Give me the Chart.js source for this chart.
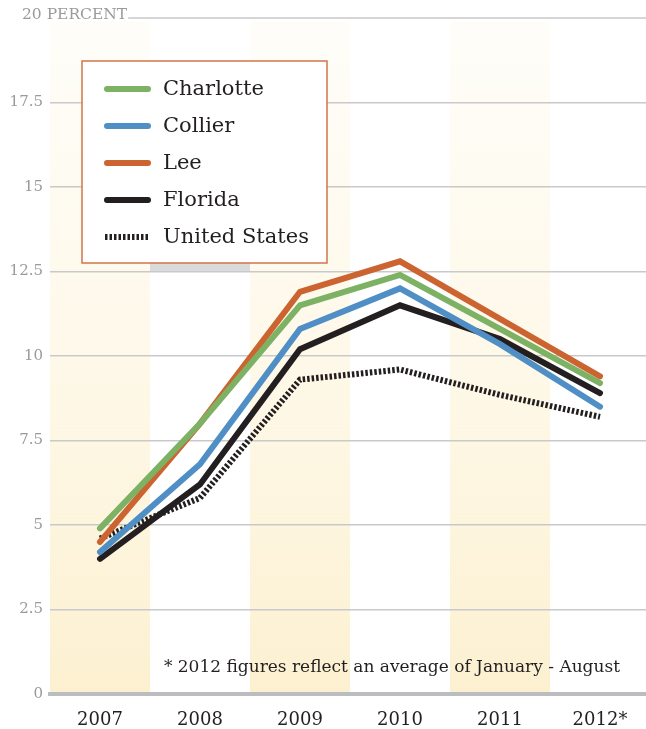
<!DOCTYPE html>
<html>
<head>
<meta charset="utf-8">
<script src="https://cdn.jsdelivr.net/npm/chart.js@4.4.1/dist/chart.umd.min.js"></script>
<style>
html, body { margin: 0; padding: 0; background: #fff; overflow: hidden; }
#wrap { width: 650px; height: 729px; position: relative; }
</style>
</head>
<body>
<div id="wrap"><canvas id="lineChart"></canvas></div>
<script>
var years = ['2007', '2008', '2009', '2010', '2011', '2012*'];
var charlotte = [4.9, 8.0, 11.5, 12.4, 10.8, 9.2];
var collier = [4.2, 6.8, 10.8, 12.0, 10.35, 8.5];
var lee = [4.5, 8.0, 11.9, 12.8, 11.1, 9.4];
var florida = [4.0, 6.2, 10.2, 11.5, 10.5, 8.9];
var unitedStates = [4.6, 5.8, 9.3, 9.6, 8.85, 8.2];
var topLabel = '20 PERCENT';
var footnote = '* 2012 figures reflect an average of January - August';

var serif = '"DejaVu Serif", Georgia, serif';

// shaded year columns, grey block and top label
var backdrop = {
    id: 'backdrop',
    beforeDraw: function (chart) {
        var ctx = chart.ctx, area = chart.chartArea;
        var x = chart.scales.x, y = chart.scales.y;
        var half = (x.getPixelForValue(1) - x.getPixelForValue(0)) / 2;
        ctx.save();
        var grad = ctx.createLinearGradient(0, area.top, 0, area.bottom);
        grad.addColorStop(0, 'rgba(253,244,218,0.15)');
        grad.addColorStop(0.5, 'rgba(253,244,218,0.6)');
        grad.addColorStop(1, 'rgba(252,240,208,1)');
        ctx.fillStyle = grad;
        [0, 2, 4].forEach(function (i) {
            var cx = x.getPixelForValue(i);
            ctx.fillRect(cx - half, area.top + 3, half * 2, area.bottom - area.top - 3);
        });
        ctx.fillStyle = '#d9dadc';
        var cx1 = x.getPixelForValue(1);
        var yTop = y.getPixelForValue(12.78), yBot = y.getPixelForValue(12.5);
        ctx.fillRect(cx1 - half, yTop, half * 2, yBot - yTop);
        ctx.restore();
    },
    afterDraw: function (chart) {
        var ctx = chart.ctx, area = chart.chartArea;
        ctx.save();
        ctx.font = '15.5px ' + serif;
        ctx.fillStyle = '#9a9a9a';
        ctx.textBaseline = 'alphabetic';
        ctx.fillText(topLabel, 22, area.top + 1);
        var w = ctx.measureText(topLabel).width;
        ctx.strokeStyle = '#c9c9cc';
        ctx.lineWidth = 1.5;
        ctx.beginPath();
        ctx.moveTo(22 + w + 1, area.top);
        ctx.lineTo(area.right, area.top);
        ctx.stroke();

        ctx.font = '17px ' + serif;
        ctx.fillStyle = '#231f20';
        ctx.textAlign = 'right';
        ctx.fillText(footnote, area.right - 30, area.bottom - 22);
        ctx.restore();
    }
};

// boxed legend in the upper left
var boxLegend = {
    id: 'boxLegend',
    afterDatasetsDraw: function (chart) {
        var ctx = chart.ctx;
        ctx.save();
        ctx.fillStyle = '#fff';
        ctx.fillRect(82, 61, 245, 202);
        ctx.strokeStyle = '#d2754a';
        ctx.lineWidth = 1.5;
        ctx.strokeRect(82, 61, 245, 202);
        chart.data.datasets.forEach(function (ds, i) {
            var rowY = 89 + i * 37;
            ctx.strokeStyle = ds.borderColor;
            ctx.lineWidth = 6;
            ctx.lineCap = ds.borderDash ? 'butt' : 'round';
            ctx.setLineDash(ds.borderDash || []);
            ctx.beginPath();
            ctx.moveTo(ds.borderDash ? 105 : 107, rowY);
            ctx.lineTo(148, rowY);
            ctx.stroke();
            ctx.setLineDash([]);
            ctx.font = '21px ' + serif;
            ctx.fillStyle = '#231f20';
            ctx.textBaseline = 'middle';
            ctx.fillText(ds.label, 163, rowY + 1);
        });
        ctx.restore();
    }
};

function series(label, data, color, dash) {
    var ds = {
        label: label,
        data: data,
        borderColor: color,
        borderWidth: 6,
        pointRadius: 0,
        tension: 0,
        borderCapStyle: dash ? 'butt' : 'round',
        borderJoinStyle: 'miter'
    };
    if (dash) ds.borderDash = dash;
    return ds;
}

var lineChart = new Chart(document.getElementById('lineChart'), {
    type: 'line',
    data: {
        labels: years,
        datasets: [
            series('Charlotte', charlotte, '#7db264'),
            series('Collier', collier, '#4f8fc5'),
            series('Lee', lee, '#cc6431'),
            series('Florida', florida, '#231f20'),
            series('United States', unitedStates, '#231f20', [2.5, 2])
        ]
    },
    options: {
        responsive: true,
        maintainAspectRatio: false,
        animation: false,
        layout: { padding: { top: 18, bottom: 0 } },
        plugins: {
            legend: { display: false },
            tooltip: { enabled: false }
        },
        scales: {
            x: {
                offset: true,
                afterFit: function (scale) { scale.height = 35; },
                grid: { display: false },
                border: { color: '#bcbdc0', width: 4 },
                ticks: {
                    color: '#231f20',
                    padding: 8,
                    font: { family: serif, size: 18 }
                }
            },
            y: {
                min: 0,
                max: 20,
                afterFit: function (scale) { scale.width = 50; },
                border: { display: false },
                grid: {
                    drawTicks: false,
                    lineWidth: 1.5,
                    color: function (c) {
                        return (c.tick && (c.tick.value === 20 || c.tick.value === 0)) ? 'rgba(0,0,0,0)' : '#c9c9cc';
                    }
                },
                ticks: {
                    stepSize: 2.5,
                    padding: 7,
                    color: '#9a9a9a',
                    font: { family: serif, size: 15 },
                    callback: function (v) { return v === 20 ? '' : v; }
                }
            }
        }
    },
    plugins: [backdrop, boxLegend]
});
</script>
</body>
</html>
